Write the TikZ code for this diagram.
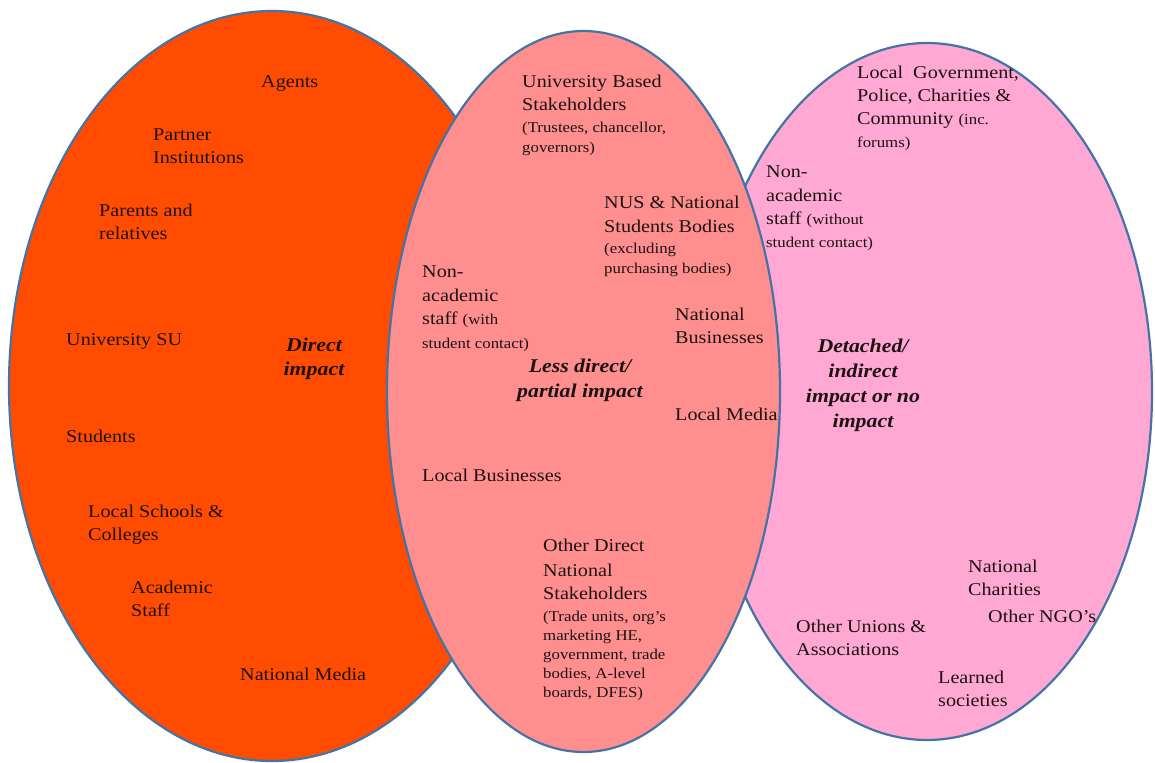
\documentclass[tikz,border=0pt]{standalone}
\usepackage{fontspec}
\setmainfont{Liberation Serif}[FakeStretch=1.12]
\definecolor{lfill}{RGB}{255,76,0}
\definecolor{mfill}{RGB}{255,143,143}
\definecolor{rfill}{RGB}{255,168,212}
\definecolor{rim}{RGB}{70,115,165}
\definecolor{ink}{RGB}{28,18,18}
\newcommand\sm{\fontsize{15}{17}\selectfont}
\tikzset{
  set/.style={draw=rim, line width=2.2pt},
  lbl/.style={anchor=north west, inner sep=0pt, align=left, text=ink,
    font=\fontsize{18}{23}\selectfont},
  head/.style={anchor=north, inner sep=0pt, align=center, text=ink,
    font=\fontsize{19.5}{23}\selectfont\bfseries\itshape},
}
\begin{document}
\begin{tikzpicture}[x=1pt,y=-1pt]
\useasboundingbox (0,0) rectangle (1155,762);

% the three sets; the middle one lies on top of the other two
\draw[set, fill=lfill] (272,386) ellipse [x radius=263, y radius=375];
\draw[set, fill=rfill] (927,391.5) ellipse [x radius=225, y radius=348.5];
\draw[set, fill=mfill] (583.5,391.5) ellipse [x radius=196.5, y radius=360.5];

% direct impact
\node[lbl] (agents) at (261,75) {Agents};
\node[lbl] (partner) at (153,129) {Partner\\Institutions};
\node[lbl] (parents) at (99,204) {Parents and\\relatives};
\node[lbl] (su) at (66,333) {University SU};
\node[head] (direct) at (314,338) {Direct\\[1pt]impact};
\node[lbl] (students) at (66,430) {Students};
\node[lbl] (schools) at (88,505) {Local Schools \&\\Colleges};
\node[lbl] (academic) at (131,581) {Academic\\Staff};
\node[lbl] (natmedia) at (240,668) {National Media};

% less direct / partial impact
\node[lbl] (ubs) at (522,75) {University Based\\Stakeholders\\[-1pt]{\sm (Trustees, chancellor,}\\[-3pt]{\sm governors)}};
\node[lbl] (nus) at (604,196) {NUS \& National\\[1pt]Students Bodies\\[-2pt]{\sm (excluding}\\[-3pt]{\sm purchasing bodies)}};
\node[lbl] (naw) at (422,266) {Non-\\[1pt]academic\\staff {\sm (with}\\[1pt]{\sm student contact)}};
\node[lbl] (natbus) at (675,308) {National\\Businesses};
\node[head] (partial) at (580,359) {Less direct/\\[2pt]partial impact};
\node[lbl] (locmedia) at (675,408) {Local Media};
\node[lbl] (locbus) at (422,469) {Local Businesses};
\node[lbl] (odns) at (543,539) {Other Direct\\[2pt]National\\Stakeholders\\[-1pt]{\sm (Trade units, org's}\\[-4pt]{\sm marketing HE,}\\[-4pt]{\sm government, trade}\\[-4pt]{\sm bodies, A-level}\\[-4pt]{\sm boards, DFES)}};

% detached / indirect impact
\node[lbl] (locgov) at (857,66) {Local\ \ Government,\\Police, Charities \&\\Community {\sm (inc.}\\{\sm forums)}};
\node[lbl] (nawo) at (766,166) {Non-\\[1pt]academic\\staff {\sm (without}\\{\sm student contact)}};
\node[head] (detached) at (863,339) {Detached/\\[2pt]indirect\\[2pt]impact or no\\[2pt]impact};
\node[lbl] (natchar) at (968,560) {National\\Charities};
\node[lbl] (ngo) at (988,610) {Other NGO's};
\node[lbl] (unions) at (796,620) {Other Unions \&\\Associations};
\node[lbl] (learned) at (938,671) {Learned\\societies};
\end{tikzpicture}
\end{document}
